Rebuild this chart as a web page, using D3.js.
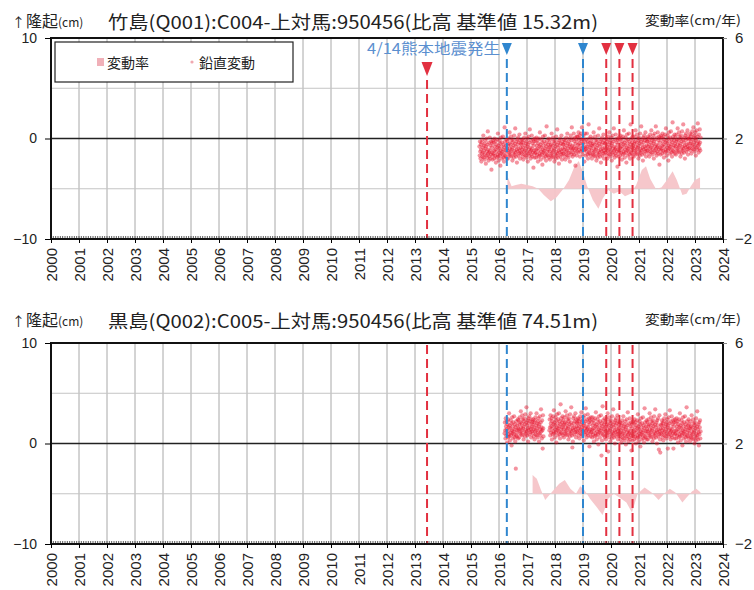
<!DOCTYPE html>
<html><head><meta charset="utf-8">
<script src="https://cdn.jsdelivr.net/npm/d3@7"></script>
<style>body{margin:0;background:#fff}svg{display:block}</style>
</head><body>
<script>
// ---------- DATA ----------
const xTicks = [2000,2001,2002,2003,2004,2005,2006,2007,2008,2009,2010,2011,2012,2013,2014,2015,2016,2017,2018,2019,2020,2021,2022,2023,2024];
const yLeftTicks = [-10,0,10];
const yRightTicks = [-2,2,6];
const eventYears = [2013.43, 2016.28, 2019.0, 2019.83, 2020.3, 2020.77];
const eventKinds = ["red","blue","blue","red","red","red"];
const quakeLabel = "4/14熊本地震発生";

const titleTop = "竹島(Q001):C004-上対馬:950456(比高 基準値  15.32m)";
const titleBottom = "黒島(Q002):C005-上対馬:950456(比高 基準値  74.51m)";

// vertical displacement (mm), one value every 0.01 yr
const vertStep = 0.01;
const vertTopStart = 2015.30;
const vertTop = [
-8,-17,-3,-13,-20,-6,-11,-23,-4,-15,-1,-18,-9,-14,3,-19,-7,-12,-21,-5,-16,-2,-10,-25,-8,-17,0,-13,-19,-6,7,-15,-11,-22,-4,-14,-18,1,-12,-20,-7,-16,-3,-31,-9,-5,-14,-21,-2,-17,
-15,-4,-12,-20,0,-8,-17,-11,-3,-24,-6,-13,-19,-1,-16,-9,5,-18,-7,-22,-10,-14,-2,-17,-5,-27,-12,1,-15,-8,-20,-4,-13,-16,2,-11,-19,-6,-23,-9,11,-17,-3,-14,-18,-7,-12,-1,-20,-10,
-3,-12,-20,-7,0,-16,-5,-14,6,-10,-17,-6,-13,2,-18,-2,-11,-9,-22,-4,-1,-15,-7,-19,3,-12,-16,-5,10,-14,-8,-18,-3,-11,-24,-1,-13,-6,1,-17,-10,-4,-15,4,-12,-20,-2,-9,-14,-5,
-6,-15,-1,-11,-18,-4,-9,-21,-2,-13,1,-16,-7,-12,5,-17,-5,-10,-19,-3,-14,0,-8,-23,-6,-15,2,-11,-17,-4,9,-13,-9,-20,-2,-12,-16,3,-10,-18,-5,-14,-1,-29,-7,-3,-12,-19,0,-15,
-14,-3,-11,-19,1,-7,-16,-10,-2,-23,-5,-12,-18,0,-15,-8,6,-17,-6,-21,-9,-13,-1,-16,-4,-26,-11,2,-14,-7,-19,-3,-12,-15,3,-10,-18,-5,-22,-8,12,-16,-2,-13,-17,-6,-11,0,-19,-9,
-4,-13,-21,-8,-1,-17,-6,-15,5,-11,-18,-7,-14,1,-19,-3,-12,-10,-23,-5,-2,-16,-8,-20,2,-13,-17,-6,9,-15,-9,-19,-4,-12,-25,-2,-14,-7,0,-18,-11,-5,-16,3,-13,-21,-3,-10,-15,-6,
-6,-15,-1,-11,-18,-4,-9,-21,-2,-13,1,-16,-7,-12,5,-17,-5,-10,-19,-3,-14,0,-8,-23,-6,-14,3,-10,-16,-2,11,-11,-7,-18,0,-10,-14,5,-8,-16,-3,-12,1,-27,-5,-1,-10,-17,2,-13,
-9,2,-6,-14,6,-2,-11,-5,3,-18,0,-7,-13,5,-10,-3,11,-12,-1,-16,-5,-9,3,-12,-1,-23,-8,5,-11,-4,-17,-1,-10,-13,5,-8,-16,-3,-20,-6,14,-14,0,-11,-15,-4,-9,2,-17,-7,
-3,-12,-20,-7,0,-16,-5,-14,6,-10,-17,-6,-13,2,-18,-2,-11,-9,-22,-4,-1,-15,-7,-19,3,-12,-16,-5,10,-14,-8,-18,-3,-11,-24,-1,-13,-6,1,-17,-10,-4,-15,4,-12,-20,-2,-9,-14,-5,
-5,-14,0,-10,-17,-3,-8,-20,-1,-12,2,-15,-6,-11,6,-16,-4,-9,-18,-2,-13,1,-7,-22,-5,-14,3,-10,-16,-3,10,-12,-8,-19,-1,-11,-15,4,-9,-17,-4,-13,0,-28,-6,-2,-11,-18,1,-14,
-12,-1,-9,-17,3,-5,-14,-8,0,-21,-3,-10,-16,2,-13,-6,8,-15,-4,-19,-7,-11,1,-14,-2,-24,-9,4,-12,-5,-17,-1,-10,-13,5,-8,-16,-3,-20,-6,14,-14,0,-11,-15,-4,-9,2,-17,-7,
-1,-10,-18,-5,2,-14,-3,-12,8,-8,-15,-4,-11,4,-16,0,-9,-7,-20,-2,1,-13,-5,-17,5,-10,-14,-3,12,-12,-6,-16,-1,-9,-22,1,-11,-4,3,-15,-8,-2,-13,6,-10,-18,0,-7,-12,-3,
-3,-12,2,-8,-15,-1,-6,-18,1,-10,4,-13,-4,-9,8,-14,-2,-7,-16,0,-11,3,-5,-20,-3,-12,5,-8,-14,-1,12,-10,-6,-17,1,-9,-13,6,-7,-15,-2,-11,2,-26,-4,0,-9,-16,3,-12,
-10,1,-7,-15,5,-3,-12,-6,2,-19,-1,-8,-14,4,-11,-4,10,-13,-2,-17,-5,-9,3,-12,0,-22,-7,6,-10,-3,-15,1,-8,-11,7,-6,-14,-1,-18,-4,16,-12,2,-9,-13,-2,-7,4,-15,-5,
1,-8,-16,-3,4,-12,-1,-10,10,-6,-13,-2,-9,6,-14,2,-7,-5,-18,0,3,-11,-3,-15,7,-8,-12,-1,14,-10,-4,-14,1,-7,-20,3,-9,-2,5,-13,-6,0,-11,8,-8,-16,2,-5,-10,-1,
0,-9,5,-5,-12,2,-3,-15,4,-7,7,-10,-1,-6,11,-11,1,-4,-13,3,-8,6,-2,-17,0,-9,8,-5,-11,2,15,-7,-3,-14,4,-6,-10,9,-4,-12,1
];
const vertBottomStart = 2016.20;
const vertBottom = [
10,21,13,5,25,17,8,14,22,1,19,12,6,24,9,16,30,7,18,3,15,11,23,8,20,-2,13,26,10,17,5,21,12,9,27,14,6,19,2,16,-25,8,22,11,7,18,13,24,5,15,
23,14,6,19,26,10,21,12,32,16,9,20,13,28,8,24,15,17,4,22,25,11,19,7,29,14,10,21,36,12,18,8,23,15,2,25,13,20,27,9,16,22,11,30,14,6,24,17,12,21,
19,10,24,14,7,21,16,4,23,12,26,9,18,13,30,8,20,15,6,22,11,25,17,2,19,10,27,14,8,21,34,12,16,5,23,13,-5,28,15,7,
null,null,null,null,null,null,null,null,null,null,null,null,null,null,null,null,null,null,null,null,
13,24,16,8,28,20,11,17,25,4,22,15,9,27,12,19,33,10,21,6,18,14,26,11,23,1,16,29,13,20,8,24,15,12,30,17,9,22,5,19,39,11,25,14,10,21,16,27,8,18,
23,14,6,19,26,10,21,12,32,16,9,20,13,28,8,24,15,17,4,22,25,11,19,7,29,14,10,21,36,12,18,8,-4,15,2,25,13,20,27,9,16,22,11,30,14,6,24,17,12,21,
20,11,25,15,8,22,17,5,24,13,27,10,19,14,31,9,21,16,7,23,12,26,18,3,20,11,28,15,9,22,35,13,17,6,24,14,10,29,16,8,21,12,25,-3,19,23,14,7,26,11,
11,22,14,6,26,18,9,15,23,2,20,13,7,25,10,17,31,8,19,4,16,12,24,9,21,-1,14,27,11,18,6,22,13,10,28,15,-12,20,3,17,37,9,23,12,8,19,14,25,6,16,
21,12,4,17,24,8,19,10,30,14,-8,18,11,26,6,22,13,15,2,20,23,9,17,5,27,12,8,19,34,10,16,6,21,13,0,23,11,18,25,7,14,20,9,28,12,4,22,15,10,19,
16,7,21,11,4,18,13,1,20,9,23,6,15,10,27,5,17,12,3,19,8,22,14,-1,16,7,24,11,5,18,31,9,13,2,20,10,6,25,12,4,17,8,21,-7,15,19,10,3,22,7,
9,20,12,4,24,16,7,13,21,0,18,11,5,23,8,15,29,6,17,2,14,10,22,7,19,-3,12,25,9,16,4,20,11,8,26,13,5,18,1,15,35,7,21,10,6,17,12,23,4,14,
21,12,4,17,24,8,19,10,30,14,7,18,11,26,6,22,13,15,2,20,23,9,17,5,27,12,8,19,34,10,16,6,21,13,0,23,11,18,25,7,14,-6,9,28,12,4,-9,15,10,19,
18,9,23,13,6,20,15,3,22,11,25,8,17,12,29,7,19,14,5,21,10,24,16,-5,18,9,26,13,7,20,33,11,15,4,22,12,8,27,14,6,19,10,23,-5,17,21,12,5,24,9,
10,21,13,5,25,17,8,14,22,1,19,12,6,24,9,16,30,7,18,3,15,11,23,8,20,-2,13,26,10,17,5,21,12,9,27,14,6,19,2,16,36,8,22,11,7,18,13,24,5,15,
19,10,2,15,22,6,17,8,28,12,5,16,9,24,4,20,11,13,0,18,21,7,15,3,25,10,6,17,32,8,14,4,19,11,-2,21,9,16,23,5,12
];

// rate of change (cm/yr)
const rateTopYears = [2016.30,2016.45,2016.6,2016.8,2017.0,2017.2,2017.4,2017.6,2017.85,2018.05,2018.3,2018.5,2018.7,2018.85,2019.0,2019.15,2019.35,2019.55,2019.7,2019.9,2020.1,2020.3,2020.5,2020.7,2020.9,2021.1,2021.25,2021.4,2021.6,2021.8,2022.0,2022.2,2022.35,2022.55,2022.7,2022.85,2023.0,2023.18];
const rateTopVals  = [0.5,0.1,0.15,0.2,0.15,0.1,0,-0.25,-0.5,-0.35,0,0.35,0.9,1.1,0.65,0.1,-0.45,-0.8,-0.4,-0.05,-0.2,-0.1,-0.3,-0.2,0.15,0.75,0.9,0.4,0,0.05,0.35,0.7,0.35,-0.25,-0.2,0.1,0.35,0.45];
const rateBottomYears = [2017.2,2017.35,2017.5,2017.65,2017.8,2017.95,2018.15,2018.35,2018.55,2018.75,2018.9,2019.05,2019.25,2019.5,2019.7,2019.9,2020.1,2020.3,2020.55,2020.75,2020.95,2021.2,2021.45,2021.7,2021.9,2022.1,2022.3,2022.55,2022.7,2022.9,2023.05,2023.2];
const rateBottomVals  = [0.75,0.6,0.15,-0.25,-0.05,0.15,0.4,0.55,0.2,0,0.3,0.15,-0.2,-0.55,-0.85,-0.2,0,-0.15,-0.35,-0.75,0,0.25,0.05,-0.25,0,0.2,0.05,-0.35,-0.15,0.1,0.2,0.05];

// ---------- DRAW ----------
const W = 754, H = 590;
const svg = d3.select("body").append("svg").attr("width", W).attr("height", H)
  .style("font-family", "'Liberation Sans', Arial, sans-serif");
const x = d3.scaleLinear().domain([2000, 2024]).range([51, 723]);
const jp = "'Noto Sans CJK JP', sans-serif";
const RED = "#e23040", BLUE = "#2f86cf", PINK = "#f6c4c8", DOT = "#e6102a";

function panel(p) {
  const yL = d3.scaleLinear().domain([-10, 10]).range([p.bottom, p.top]);
  const yR = d3.scaleLinear().domain([-2, 6]).range([p.bottom, p.top]);
  const g = svg.append("g");

  // titles
  const t1 = g.append("text").attr("x", 12).attr("y", p.titleY - 2).attr("font-family", jp).attr("fill", "#222");
  t1.append("tspan").attr("font-size", 13).text("↑");
  t1.append("tspan").attr("font-size", 16).attr("dx", 1).text("隆起");
  t1.append("tspan").attr("font-size", 12).text("(cm)");
  g.append("text").attr("x", 108).attr("y", p.titleY).attr("font-family", jp).attr("font-size", 18)
    .attr("fill", "#222").attr("textLength", p.titleLen).attr("lengthAdjust", "spacingAndGlyphs").text(p.title);
  g.append("text").attr("x", 645).attr("y", p.titleY - 4).attr("font-family", jp).attr("font-size", 13)
    .attr("fill", "#222").attr("textLength", 96).attr("lengthAdjust", "spacingAndGlyphs").text("変動率(cm/年)");

  // grid
  g.selectAll(".vg").data(xTicks.slice(1, -1)).join("line")
    .attr("x1", d => x(d)).attr("x2", d => x(d)).attr("y1", p.top).attr("y2", p.bottom)
    .attr("stroke", "#a8a8a8").attr("stroke-width", 1);
  g.selectAll(".hg").data([-5, 5]).join("line")
    .attr("x1", x(2000)).attr("x2", x(2024)).attr("y1", d => yL(d)).attr("y2", d => yL(d))
    .attr("stroke", "#c4c4c4").attr("stroke-width", 1);

  // rate area
  const rate = p.rateYears.map((yr, i) => [yr, p.rateVals[i]]);
  g.append("path").datum(rate)
    .attr("d", d3.area().x(d => x(d[0])).y0(yR(0)).y1(d => yR(d[1])))
    .attr("fill", PINK).attr("opacity", 0.95);

  // zero line
  g.append("line").attr("x1", x(2000)).attr("x2", x(2024)).attr("y1", yL(0)).attr("y2", yL(0))
    .attr("stroke", "#222").attr("stroke-width", 1.5);

  // scatter
  const pts = p.vert.map((v, i) => [p.vertStart + vertStep * i, v]).filter(d => d[1] !== null);
  g.append("g").selectAll("circle").data(pts).join("circle")
    .attr("cx", d => x(d[0])).attr("cy", d => yL(d[1] / 10)).attr("r", 2.1)
    .attr("fill", DOT).attr("opacity", 0.45);

  // legend
  if (p.legend) {
    g.append("rect").attr("x", 55).attr("y", 42).attr("width", 238).attr("height", 40)
      .attr("fill", "#fff").attr("stroke", "#222").attr("stroke-width", 1.2);
    g.append("rect").attr("x", 97).attr("y", 58).attr("width", 7).attr("height", 8).attr("fill", "#f0b0b8");
    g.append("text").attr("x", 107).attr("y", 68).attr("font-family", jp).attr("font-size", 14).attr("fill", "#222").text("変動率");
    g.append("circle").attr("cx", 192).attr("cy", 62).attr("r", 1.6).attr("fill", "#f0a8b0");
    g.append("text").attr("x", 199).attr("y", 68).attr("font-family", jp).attr("font-size", 14).attr("fill", "#222").text("鉛直変動");
  }

  // event dashed lines
  eventYears.forEach((yr, i) => {
    const c = eventKinds[i] === "red" ? RED : BLUE;
    let y1 = p.top + 2;
    if (p.markers) {
      const low = i === 0;
      const ty = low ? 62 : 43, th = low ? 14 : 12, tw = low ? 11 : 10;
      g.append("path").attr("d", `M${x(yr) - tw / 2},${ty}L${x(yr) + tw / 2},${ty}L${x(yr)},${ty + th}Z`).attr("fill", c);
      y1 = ty + th + 4;
    }
    g.append("line").attr("x1", x(yr)).attr("x2", x(yr)).attr("y1", y1).attr("y2", p.bottom)
      .attr("stroke", c).attr("stroke-width", 2).attr("stroke-dasharray", "9,5");
  });
  if (p.markers) {
    g.append("text").attr("x", 500).attr("y", 54).attr("text-anchor", "end").attr("font-family", jp)
      .attr("font-size", 15).attr("fill", "#5b8fcf").attr("textLength", 133).attr("lengthAdjust", "spacingAndGlyphs").text(quakeLabel);
  }

  // monthly minor ticks on bottom
  g.selectAll(".mt").data(d3.range(0, 24 * 12)).join("line")
    .attr("x1", d => x(2000 + d / 12)).attr("x2", d => x(2000 + d / 12))
    .attr("y1", p.bottom - 3).attr("y2", p.bottom).attr("stroke", "#333").attr("stroke-width", 0.8);

  // frame
  g.append("rect").attr("x", x(2000)).attr("y", p.top).attr("width", x(2024) - x(2000)).attr("height", p.bottom - p.top)
    .attr("fill", "none").attr("stroke", "#111").attr("stroke-width", 2);

  // axes
  const ax = g.append("g").attr("transform", `translate(${x(2000)},0)`)
    .call(d3.axisLeft(yL).tickValues(yLeftTicks).tickSize(6).tickPadding(8));
  ax.select(".domain").remove();
  ax.selectAll("text").attr("font-size", 14).attr("fill", "#222").attr("font-family", "'Liberation Sans', Arial, sans-serif");

  const ar = g.append("g").attr("transform", `translate(${x(2024)},0)`)
    .call(d3.axisRight(yR).tickValues(yRightTicks).tickSize(4).tickPadding(8));
  ar.select(".domain").remove();
  ar.selectAll("line").attr("stroke", "#888");
  ar.selectAll("text").attr("font-size", 15).attr("fill", "#222").attr("font-family", "'Liberation Sans', Arial, sans-serif");

  const ab = g.append("g").attr("transform", `translate(0,${p.bottom})`)
    .call(d3.axisBottom(x).tickValues(xTicks).tickSize(4).tickFormat(d3.format("d")));
  ab.select(".domain").remove();
  ab.selectAll("text").attr("transform", "rotate(-90)").attr("x", -9).attr("y", 0).attr("dy", "0.36em")
    .style("text-anchor", "end").attr("font-size", 15).attr("fill", "#222")
    .attr("font-family", "'Liberation Sans', Arial, sans-serif");
}

panel({ top: 38, bottom: 239, titleY: 29, title: titleTop, titleLen: 490, legend: true, markers: true,
  vert: vertTop, vertStart: vertTopStart, rateYears: rateTopYears, rateVals: rateTopVals });
panel({ top: 343, bottom: 544, titleY: 328, title: titleBottom, titleLen: 490, legend: false, markers: false,
  vert: vertBottom, vertStart: vertBottomStart, rateYears: rateBottomYears, rateVals: rateBottomVals });
</script>
</body></html>
